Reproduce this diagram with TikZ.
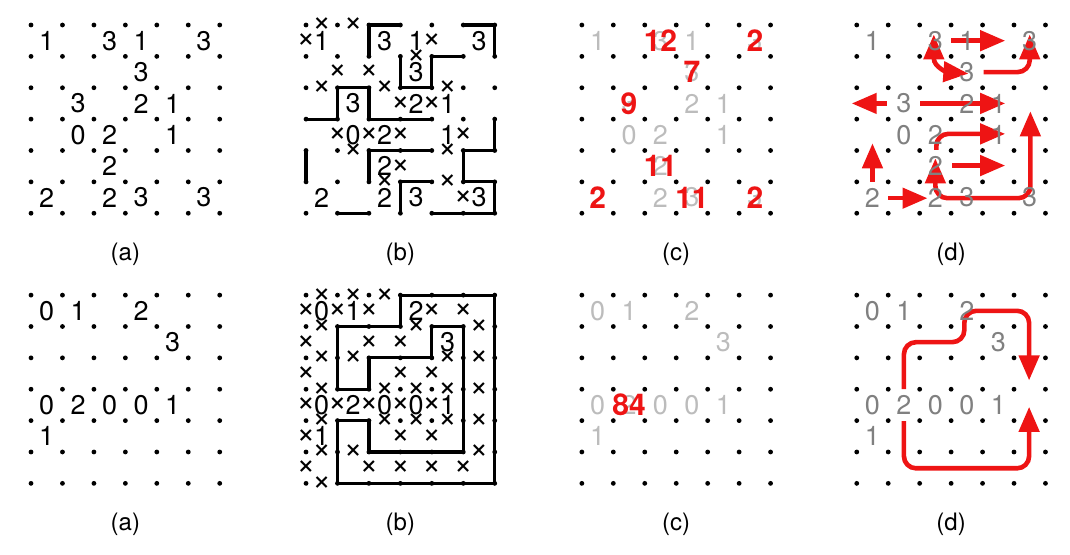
\documentclass[tikz,border=0pt]{standalone}
\usepackage{fontspec}
\setmainfont{TeX Gyre Heros}
\usetikzlibrary{arrows.meta}

\definecolor{solred}{RGB}{238,20,20}
\definecolor{paleclue}{RGB}{188,188,188}
\definecolor{greyclue}{RGB}{128,128,128}

% clue lists: column/row/value
\newcommand{\upperclues}{0/0/1,2/0/3,3/0/1,5/0/3,3/1/3,1/2/3,3/2/2,4/2/1,1/3/0,2/3/2,4/3/1,2/4/2,0/5/2,2/5/2,3/5/3,5/5/3}
\newcommand{\lowerclues}{0/0/0,1/0/1,3/0/2,4/1/3,0/3/0,1/3/2,2/3/0,3/3/0,4/3/1,0/4/1}
\newcommand{\dotgrid}{\foreach \i in {0,...,6} \foreach \j in {0,...,6} \fill (\i,\j) circle[radius=1.2pt];}

\begin{document}
\begin{tikzpicture}[x=15.72pt, y=-15.68pt, >={Triangle[length=12.5pt,width=10pt]},
  clue/.style={font=\fontsize{13.5}{15}\selectfont, inner sep=0pt},
  count/.style={font=\fontsize{15}{17}\selectfont\bfseries, text=solred, inner sep=0pt},
  cross/.style={font=\fontsize{16}{18}\selectfont, inner sep=0pt},
  caption/.style={font=\fontsize{12}{14}\selectfont, inner sep=0pt},
  loopline/.style={line width=1.6pt, line join=miter},
  flow/.style={draw=solred, line width=2.3pt, rounded corners=6pt}]
\useasboundingbox (0,0) rectangle (34.02,17.666);

% ---- top row ----
\begin{scope}[shift={(0.986,0.797)}]
\dotgrid
\foreach \c/\r/\v in \upperclues \node[clue] (ua-\c-\r) at (\c+0.5,\r+0.5) {\v};
\node[caption] (capua) at (3,7.3) {(a)};
\end{scope}

\begin{scope}[shift={(9.73,0.797)}]
\dotgrid
\draw[loopline] (2,1) -- (2,0) -- (3,0);
\draw[loopline] (5,0) -- (6,0) -- (6,1);
\draw[loopline] (3,1) -- (3,2) -- (4,2) -- (4,1) -- (5,1);
\draw[loopline] (0,3) -- (1,3) -- (1,2) -- (2,2) -- (2,3) -- (4,3);
\draw[loopline] (6,3) -- (6,4) -- (5,4) -- (5,5) -- (6,5) -- (6,6) -- (4,6);
\draw[loopline] (0,4) -- (0,5);
\draw[loopline] (2,5) -- (2,4) -- (4,4);
\draw[loopline] (4,5) -- (3,5) -- (3,6);
\draw[loopline] (1,6) -- (2,6);
\foreach \a/\b [count=\k] in {0.5/0,1.5/0,0/0.5,4/0.5,3.5/1,1/1.5,2/1.5,0.5/2,2.5/2,4.5/2,3/2.5,4/2.5,1/3.5,2/3.5,3/3.5,5/3.5,1.5/4,4.5/4,3/4.5,2.5/5,4.5/5,5/5.5}
  \node[cross] (xub-\k) at (\a,\b) {×};
\foreach \c/\r/\v in \upperclues \node[clue] (ub-\c-\r) at (\c+0.5,\r+0.5) {\v};
\node[caption] (capub) at (3,7.3) {(b)};
\end{scope}

\begin{scope}[shift={(18.50,0.797)}]
\dotgrid
\foreach \c/\r/\v in \upperclues \node[clue, text=paleclue] (uc-\c-\r) at (\c+0.5,\r+0.5) {\v};
\node[count] (uc-12) at (2.5,0.5) {12};
\node[count] (uc-2a) at (5.5,0.5) {2};
\node[count] (uc-7) at (3.5,1.5) {7};
\node[count] (uc-9) at (1.5,2.5) {9};
\node[count] (uc-11a) at (2.5,4.5) {11};
\node[count] (uc-2b) at (0.5,5.5) {2};
\node[count] (uc-11b) at (3.5,5.5) {11};
\node[count] (uc-2c) at (5.5,5.5) {2};
\node[caption] (capuc) at (3,7.3) {(c)};
\end{scope}

\begin{scope}[shift={(27.24,0.797)}]
\dotgrid
\draw[flow, ->] (3.0,0.5) -- (4.72,0.5);
\draw[flow, <->] (2.45,0.3) .. controls (2.45,1.35) and (2.9,1.5) .. (3.55,1.55);
\draw[flow, ->] (4.03,1.5) -- (5.5,1.5) -- (5.5,0.3);
\draw[flow, ->] (0.96,2.5) -- (-0.16,2.5);
\draw[flow, ->] (2.02,2.5) -- (4.72,2.5);
\draw[flow, ->] (2.53,3.98) -- (2.53,3.47) -- (4.72,3.47);
\draw[flow, ->] (3.03,4.48) -- (4.72,4.48);
\draw[flow, ->] (0.5,5.0) -- (0.5,3.77);
\draw[flow, ->] (1.0,5.52) -- (2.25,5.52);
\draw[flow, <->] (2.5,4.25) -- (2.5,5.52) -- (5.52,5.52) -- (5.52,2.75);
\foreach \c/\r/\v in \upperclues \node[clue, text=greyclue] (ud-\c-\r) at (\c+0.5,\r+0.5) {\v};
\node[caption] (capud) at (3,7.3) {(d)};
\end{scope}

% ---- bottom row ----
\begin{scope}[shift={(0.986,9.407)}]
\dotgrid
\foreach \c/\r/\v in \lowerclues \node[clue] (la-\c-\r) at (\c+0.5,\r+0.5) {\v};
\node[caption] (capla) at (3,7.3) {(a)};
\end{scope}

\begin{scope}[shift={(9.73,9.407)}]
\dotgrid
\draw[loopline] (1,4) -- (1,6) -- (6,6) -- (6,0) -- (3,0) -- (3,1) -- (1,1) -- (1,3) -- (2,3) -- (2,2) -- (4,2) -- (4,1) -- (5,1) -- (5,5) -- (2,5) -- (2,4) -- cycle;
\foreach \a/\b [count=\k] in {0.5/0,1.5/0,2.5/0,0/0.5,1/0.5,2/0.5,4/0.5,5/0.5,0.5/1,3.5/1,5.5/1,0/1.5,2/1.5,3/1.5,0.5/2,1.5/2,4.5/2,5.5/2,0/2.5,3/2.5,4/2.5,0.5/3,2.5/3,3.5/3,4.5/3,5.5/3,0/3.5,1/3.5,2/3.5,3/3.5,4/3.5,0.5/4,2.5/4,3.5/4,4.5/4,5.5/4,0/4.5,3/4.5,4/4.5,0.5/5,1.5/5,5.5/5,0/5.5,2/5.5,3/5.5,4/5.5,5/5.5,0.5/6}
  \node[cross] (xlb-\k) at (\a,\b) {×};
\foreach \c/\r/\v in \lowerclues \node[clue] (lb-\c-\r) at (\c+0.5,\r+0.5) {\v};
\node[caption] (caplb) at (3,7.3) {(b)};
\end{scope}

\begin{scope}[shift={(18.50,9.407)}]
\dotgrid
\foreach \c/\r/\v in \lowerclues \node[clue, text=paleclue] (lc-\c-\r) at (\c+0.5,\r+0.5) {\v};
\node[count] (lc-84) at (1.5,3.5) {84};
\node[caption] (caplc) at (3,7.3) {(c)};
\end{scope}

\begin{scope}[shift={(27.24,9.407)}]
\dotgrid
\draw[flow, ->] (1.5,3.0) -- (1.5,1.5) -- (3.42,1.5) -- (3.42,0.5) -- (5.48,0.5) -- (5.48,2.72);
\draw[flow, ->] (1.5,4.02) -- (1.5,5.52) -- (5.48,5.52) -- (5.48,3.56);
\foreach \c/\r/\v in \lowerclues \node[clue, text=greyclue] (ld-\c-\r) at (\c+0.5,\r+0.5) {\v};
\node[caption] (capld) at (3,7.3) {(d)};
\end{scope}
\end{tikzpicture}
\end{document}
